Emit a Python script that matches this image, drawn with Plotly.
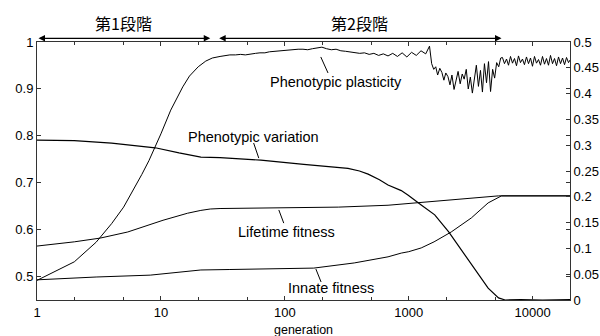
import math
import plotly.graph_objects as go

# ---------------- data ----------------
# Phenotypic plasticity (right axis)
plast_gen = [1, 2, 3, 4, 5, 6, 7, 8, 9, 10, 12, 15, 17, 20, 23, 26, 30, 36,
             40, 44, 48, 53, 58, 63, 69, 75, 82, 90, 98, 107, 117, 128, 140, 153, 167, 182, 199, 217,
             237, 259, 283, 309, 337, 368, 402, 439, 479, 523, 571, 623, 680, 742, 810, 884, 965,
             1053, 1150, 1255, 1370, 1470,
             1530, 1590, 1650, 1710, 1780, 1850, 1920, 1990, 2070, 2150, 2230, 2320, 2410, 2500,
             2600, 2700, 2800, 2910, 3020, 3140, 3260, 3380, 3510, 3650, 3790, 3930, 4080, 4240,
             4400, 4570, 4750, 4930, 5120, 5320, 5520,
             5700, 5920, 6150, 6380, 6620, 6870, 7130, 7400, 7680, 7970,
             8270, 8580, 8910, 9250, 9600, 9960, 10340, 10730, 11140, 11560,
             12000, 12450, 12920, 13410, 13920, 14450, 15000, 15570, 16160, 16770,
             17410, 18070, 18750, 19460, 20000]
plast_val = [0.038, 0.074, 0.112, 0.148, 0.180, 0.213, 0.243, 0.270, 0.297, 0.322, 0.368, 0.413, 0.434, 0.452, 0.463, 0.469, 0.472, 0.475,
             0.475, 0.476, 0.475, 0.477, 0.478, 0.479, 0.479, 0.481, 0.482, 0.483, 0.484, 0.485, 0.485, 0.486, 0.486, 0.485, 0.487, 0.488, 0.490, 0.487,
             0.485, 0.486, 0.483, 0.482, 0.481, 0.480, 0.478, 0.479, 0.476, 0.478, 0.474, 0.477, 0.473, 0.478, 0.472, 0.479, 0.471,
             0.480, 0.474, 0.483, 0.477, 0.492,
             0.458, 0.447, 0.452, 0.436, 0.449, 0.441, 0.426, 0.440, 0.433, 0.417,
             0.436, 0.408, 0.429, 0.443, 0.419, 0.438, 0.428, 0.447, 0.409, 0.432,
             0.401, 0.426, 0.455, 0.414, 0.445, 0.403, 0.458, 0.421, 0.462, 0.404,
             0.447, 0.430, 0.460, 0.452, 0.469,
             0.470, 0.458, 0.467, 0.455, 0.472, 0.459, 0.468, 0.454, 0.473, 0.460,
             0.467, 0.456, 0.471, 0.458, 0.469, 0.453, 0.472, 0.459, 0.466, 0.455,
             0.472, 0.457, 0.468, 0.455, 0.474, 0.458, 0.468, 0.454, 0.471, 0.458,
             0.469, 0.456, 0.470, 0.460, 0.465]

# Phenotypic variation (right axis)
var_gen = [1, 2, 4, 6, 9, 14, 21, 30, 64, 142, 230, 323, 400, 470, 580, 680, 870, 990, 1260, 1620, 2100,
           2650, 3400, 4370, 5300, 6000, 8000, 12000, 20000]
var_val = [0.31, 0.309, 0.304, 0.30, 0.295, 0.285, 0.277, 0.276, 0.271, 0.263, 0.259, 0.255, 0.250, 0.244, 0.233, 0.223, 0.212,
           0.203, 0.184, 0.165, 0.132, 0.097, 0.062, 0.023, 0.004, 0.0, 0.001, 0.0, 0.001]

# Lifetime fitness (left axis)
life_gen = [1, 2, 3.24, 5.4, 10.4, 16.4, 21, 25, 30, 93, 270, 680, 1260, 2200, 5300, 20000]
life_val = [0.565, 0.574, 0.582, 0.595, 0.62, 0.635, 0.641, 0.644, 0.645, 0.646, 0.648, 0.652, 0.658, 0.663, 0.672, 0.672]

# Innate fitness (left axis)
innate_gen = [1, 2, 3, 8.2, 12.6, 21, 36, 171, 363, 680, 870, 1000, 1260, 1600, 2200, 3200, 4370, 5600, 20000]
innate_val = [0.493, 0.497, 0.499, 0.503, 0.508, 0.514, 0.515, 0.518, 0.529, 0.542, 0.55, 0.553, 0.561, 0.574,
              0.595, 0.625, 0.657, 0.672, 0.672]

left_ticks = [0.5, 0.6, 0.7, 0.8, 0.9, 1.0]
left_ticktext = ["0.5", "0.6", "0.7", "0.8", "0.9", "1"]
right_ticks = [0, 0.05, 0.1, 0.15, 0.2, 0.25, 0.3, 0.35, 0.4, 0.45, 0.5]
right_ticktext = ["0", "0.05", "0.1", "0.15", "0.2", "0.25", "0.3", "0.35", "0.4", "0.45", "0.5"]
x_ticks = [1, 10, 100, 1000, 10000]
x_minor = [2, 5, 20, 50, 200, 500, 2000, 5000]

# stages: (label, start generation, end generation)
stages = [("第1段階", 1, 25), ("第2段階", 28.7, 5600)]

# series labels: (text, label gen, label paper-y, leader gen0, y0, gen1, y1)
labels = [
    ("Phenotypic plasticity", 259, 0.845, 195, 0.942, 223, 0.880),
    ("Phenotypic variation", 56, 0.632, 56, 0.6085, 61.6, 0.550),
    ("Lifetime fitness", 104, 0.2636, 89.4, 0.349, 98, 0.298),
    ("Innate fitness", 236, 0.0465, 178, 0.120, 196, 0.0698),
]

# ---------------- figure ----------------
FONT = "Liberation Sans, Arial, sans-serif"
AX = "#333333"
line = dict(color="black", width=1)

fig = go.Figure()
fig.add_trace(go.Scatter(x=plast_gen, y=plast_val, mode="lines", line=line, yaxis="y2", name="Phenotypic plasticity"))
fig.add_trace(go.Scatter(x=var_gen, y=var_val, mode="lines", line=dict(color="black", width=1.2), yaxis="y2", name="Phenotypic variation"))
fig.add_trace(go.Scatter(x=life_gen, y=life_val, mode="lines", line=line, yaxis="y", name="Lifetime fitness"))
fig.add_trace(go.Scatter(x=innate_gen, y=innate_val, mode="lines", line=line, yaxis="y", name="Innate fitness"))

annotations = []
shapes = []
for text, g0, g1 in stages:
    l0, l1 = math.log10(g0), math.log10(g1)
    annotations.append(dict(x=l1, y=1.0143, xref="x", yref="paper", axref="x", ayref="pixel",
                            ax=l0, ay=0, showarrow=True, arrowside="end+start", arrowhead=2,
                            arrowsize=1, arrowwidth=1.3, arrowcolor="black", text=""))
    annotations.append(dict(x=(l0 + l1) / 2, y=1.0736, xref="x", yref="paper", showarrow=False,
                            text=text, font=dict(family="Noto Sans CJK JP", size=16, color="black"),
                            xanchor="center", yanchor="middle"))

for text, lg, ly, g0, y0, g1, y1 in labels:
    annotations.append(dict(x=math.log10(lg), y=ly, xref="x", yref="paper", showarrow=False, text=text,
                            font=dict(family=FONT, size=14.5, color="black"), xanchor="center", yanchor="middle"))
    shapes.append(dict(type="line", xref="x", yref="paper", x0=g0, y0=y0, x1=g1, y1=y1,
                       line=dict(color="black", width=1)))

annotations.append(dict(x=0.5, y=-0.118, xref="paper", yref="paper", showarrow=False, text="generation",
                        font=dict(family=FONT, size=12.5, color="black"), xanchor="center", yanchor="middle"))

fig.update_layout(
    width=600, height=336,
    margin=dict(l=37, r=30, t=42, b=36, autoexpand=False),
    paper_bgcolor="white", plot_bgcolor="white",
    showlegend=False,
    font=dict(family=FONT, size=13, color="black"),
    xaxis=dict(type="log", range=[0, math.log10(20000)], tickvals=x_ticks, ticktext=["1", "10", "100", "1000", "10000"],
               ticks="inside", ticklen=4, tickcolor=AX, showline=True, linecolor=AX, linewidth=1,
               mirror="ticks", showgrid=False, zeroline=False, automargin=False,
               minor=dict(tickvals=x_minor, ticks="inside", ticklen=3, tickcolor=AX, showgrid=False)),
    yaxis=dict(range=[0.45, 1], tickvals=left_ticks, ticktext=left_ticktext, ticks="inside", ticklen=4,
               tickcolor=AX, showline=True, linecolor=AX, linewidth=1, mirror="ticks",
               showgrid=False, zeroline=False, automargin=False),
    yaxis2=dict(range=[0, 0.5], tickvals=right_ticks, ticktext=right_ticktext, ticks="inside", ticklen=4,
                tickcolor=AX, showline=True, linecolor=AX, linewidth=1, overlaying="y", side="right",
                showgrid=False, zeroline=False, automargin=False),
    annotations=annotations,
    shapes=shapes,
)

fig.write_html("out.html", config={"displayModeBar": False},
               post_script="document.body.style.margin='0';document.body.style.overflow='hidden';")
